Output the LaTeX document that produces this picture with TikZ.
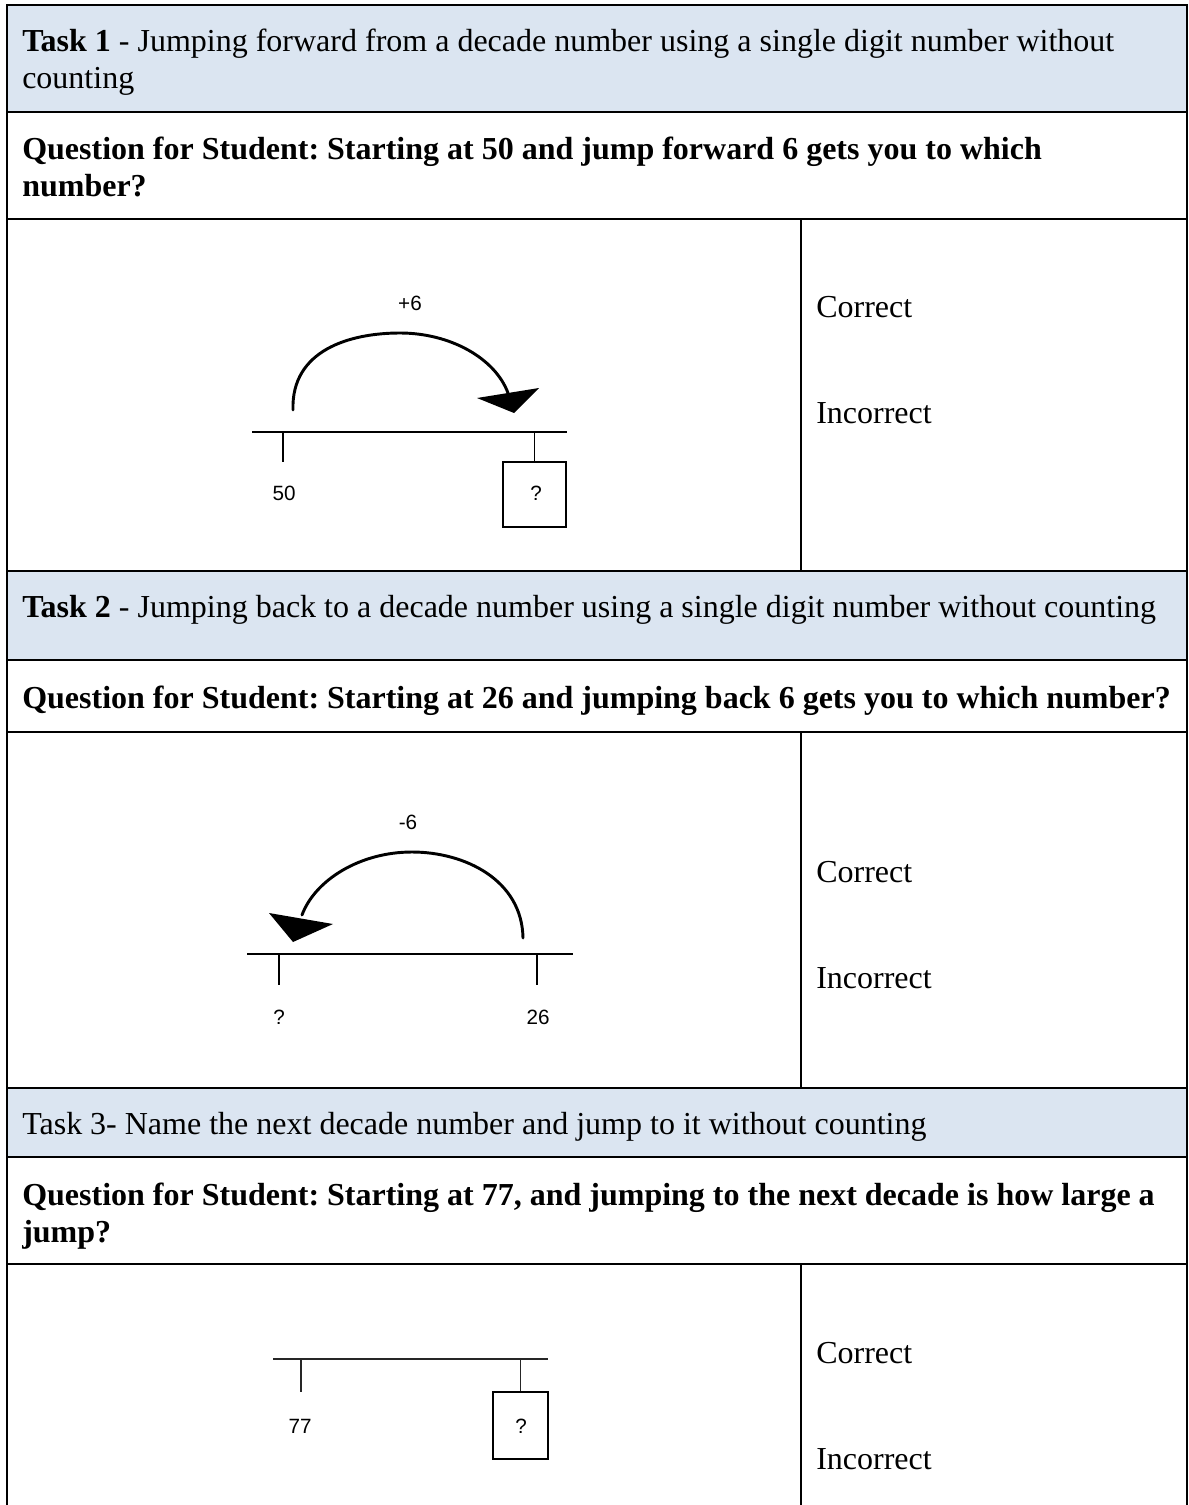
\documentclass[tikz,border=0pt]{standalone}
\usepackage{fontspec}
\setmainfont{Liberation Serif}
\newfontfamily\arialfont{Liberation Sans}
\definecolor{taskfill}{HTML}{DBE5F1}
\frenchspacing
\begin{document}
\begin{tikzpicture}[x=0.75pt,y=-0.75pt,
  grid/.style={line width=1.5pt,black},
  txt/.style={anchor=base west,inner sep=0pt,font=\fontsize{24}{27.75}\selectfont},
  lbl/.style={inner sep=0pt,font=\arialfont\fontsize{15.5}{18}\selectfont},
  nline/.style={line width=1.1pt,black},
  arcline/.style={line width=2.2pt,black,line cap=round},
  qbox/.style={draw,line width=1.1pt,inner sep=0pt,minimum width=47pt,minimum height=48.5pt},
  head/.style={fill=black}]
\useasboundingbox (0,0) rectangle (1188,1505);
% fills
\fill[taskfill] (7,5) rectangle (1187,112);
\fill[taskfill] (7,571) rectangle (1187,660);
\fill[taskfill] (7,1088) rectangle (1187,1157);
% grid
\foreach \yy in {5,112,219,571,660,732,1088,1157,1264}
  \draw[grid] (6.25,\yy) -- (1187.75,\yy);
\draw[grid] (7,5) -- (7,1505);
\draw[grid] (1187,5) -- (1187,1505);
\draw[grid] (801,219) -- (801,571);
\draw[grid] (801,732) -- (801,1088);
\draw[grid] (801,1264) -- (801,1505);
% header texts
\node[txt] (t1a) at (22,52) {\textbf{Task 1} - Jumping forward from a decade number using a single digit number without};
\node[txt] (t1b) at (22,89) {counting};
\node[txt] (q1a) at (22,160) {\textbf{Question for Student: Starting at 50 and jump forward 6 gets you to which}};
\node[txt] (q1b) at (22,197) {\textbf{number?}};
\node[txt] (t2a) at (22,617) {\textbf{Task 2} - Jumping back to a decade number using a single digit number without counting};
\node[txt] (q2a) at (22,708) {\textbf{Question for Student: Starting at 26 and jumping back 6 gets you to which number?}};
\node[txt] (t3a) at (22,1134) {Task 3- Name the next decade number and jump to it without counting};
\node[txt] (q3a) at (22,1205) {\textbf{Question for Student: Starting at 77, and jumping to the next decade is how large a}};
\node[txt] (q3b) at (22,1242) {\textbf{jump?}};
% correct / incorrect
\node[txt] (c1) at (816,317) {Correct};
\node[txt] (i1) at (816,423) {Incorrect};
\node[txt] (c2) at (816,882) {Correct};
\node[txt] (i2) at (816,988) {Incorrect};
\node[txt] (c3) at (816,1363) {Correct};
\node[txt] (i3) at (816,1469) {Incorrect};
% ---- diagram 1
\coordinate (l1a) at (252,432);
\coordinate (l1b) at (567,432);
\draw[nline] (l1a) -- (l1b);
\coordinate (k1a) at (283,432);
\coordinate (k1ae) at (283,462);
\draw[nline] (k1a) -- (k1ae);
\node[qbox] (b1) at (534.5,494.5) {};
\node[lbl] (b1q) at (536,493) {?};
\coordinate (k1b) at (534.5,432);
\draw[nline] (k1b) -- (b1.north);
\node[lbl] (n50) at (284,493) {50};
\node[lbl] (p6) at (410,303) {+6};
\draw[arcline] (293,410) .. controls (291,350) and (350,333) .. (400,333)
  .. controls (450,333) and (495,358) .. (508,393);
\fill[head] (477,398) -- (539,388) -- (514,413) -- cycle;
% ---- diagram 2
\coordinate (l2a) at (247,954);
\coordinate (l2b) at (573,954);
\draw[nline] (l2a) -- (l2b);
\draw[nline] (279,954) -- (279,985);
\draw[nline] (537,954) -- (537,985);
\node[lbl] (q2) at (279,1017) {?};
\node[lbl] (n26) at (538,1017) {26};
\node[lbl] (m6) at (408,822) {-6};
\draw[arcline] (523,938) .. controls (522,880) and (465,852) .. (412,852)
  .. controls (360,852) and (315,880) .. (302,915);
\fill[head] (269,913) -- (333,924) -- (293,942) -- cycle;
% ---- diagram 3
\coordinate (l3a) at (273,1359);
\coordinate (l3b) at (548,1359);
\draw[nline,black!85] (l3a) -- (l3b);
\draw[nline,black!85] (301,1359) -- (301,1392);
\node[qbox,minimum width=41pt,minimum height=50pt] (b3) at (520.5,1425.5) {};
\draw[nline,black!85] (520.5,1359) -- (b3.north);
\node[lbl] (n77) at (300,1426) {77};
\node[lbl] (b3q) at (521,1426) {?};
\end{tikzpicture}
\end{document}
